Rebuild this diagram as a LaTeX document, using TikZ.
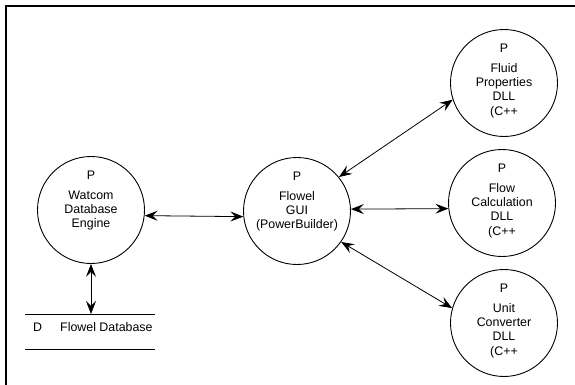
\documentclass[tikz,border=0pt]{standalone}
\usepackage{fontspec}
\setmainfont{Liberation Sans}
\usetikzlibrary{arrows.meta,calc}
\tikzset{
  proc/.style={circle,draw,line width=0.9pt,minimum size=107pt,inner sep=0pt},
  ptext/.style={anchor=north,inner sep=0pt,align=center,font=\fontsize{12.4}{14.3}\selectfont},
  flow/.style={line width=0.8pt,{Stealth[length=13pt,width=10pt,inset=5pt]}-{Stealth[length=13pt,width=10pt,inset=5pt]}},
  frameline/.style={line width=2pt},
  storeline/.style={line width=0.9pt}
}
\begin{document}
\begin{tikzpicture}[x=1pt,y=-1pt]
\useasboundingbox (0,0) rectangle (575,385);
\draw[frameline] (6,385) -- (6,6) -- (575,6);

\node[proc] (wat) at (91,210) {};
\node[proc] (gui) at (297,211) {};
\node[proc] (fluid) at (504,83) {};
\node[proc] (calc) at (502,203) {};
\node[proc] (unit) at (504,323) {};

\node[ptext] (watT) at ($(wat.center)+(0,-39.5)$) {P\\[5.7pt]Watcom\\Database\\Engine};
\node[ptext] (guiT) at ($(gui.center)+(0,-39.5)$) {P\\[5.7pt]Flowel\\GUI\\(PowerBuilder)};
\node[ptext] (fluidT) at ($(fluid.center)+(0,-39.5)$) {P\\[5.7pt]Fluid\\Properties\\DLL\\(C++};
\node[ptext] (calcT) at ($(calc.center)+(0,-39.5)$) {P\\[5.7pt]Flow\\Calculation\\DLL\\(C++};
\node[ptext] (unitT) at ($(unit.center)+(0,-39.5)$) {P\\[5.7pt]Unit\\Converter\\DLL\\(C++};

% data store
\coordinate (dbTL) at (25,314);
\coordinate (dbTR) at (155,314);
\coordinate (dbBL) at (25,349);
\coordinate (dbBR) at (155,349);
\coordinate (dbtop) at (91,314);
\draw[storeline] (dbTL) -- (dbTR);
\draw[storeline] (dbBL) -- (dbBR);
\node[anchor=base west,inner sep=0pt,font=\fontsize{12.4}{14.3}\selectfont] (dbD) at (33,331.5) {D};
\node[anchor=base west,inner sep=0pt,font=\fontsize{12.4}{14.3}\selectfont] (dbName) at (60,331.5) {Flowel Database};

% flows
\draw[flow] (wat.-6) -- (gui.186);
\draw[flow] (wat.south) -- (dbtop);
\draw[flow] (gui.39) -- (fluid.198);
\draw[flow] (gui.2) -- (calc.186);
\draw[flow] (gui.-35) -- (unit.164);
\end{tikzpicture}
\end{document}
